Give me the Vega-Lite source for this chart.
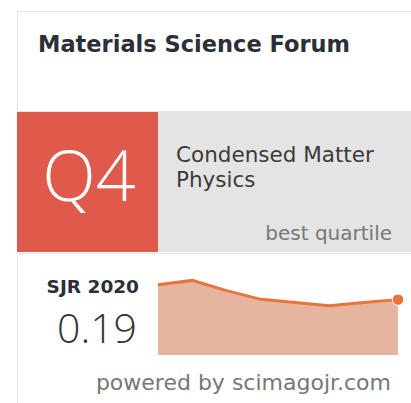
{
  "$schema": "https://vega.github.io/schema/vega-lite/v6.json",
  "background": "white",
  "padding": {"left": 16, "top": 10, "right": 0, "bottom": 0},
  "spacing": 0,
  "config": {
    "view": {"stroke": null},
    "concat": {"spacing": 0},
    "text": {"font": "DejaVu Sans"}
  },
  "vconcat": [
    {
      "width": 401,
      "height": 100,
      "view": {"fill": "white", "stroke": "#e4e4e4"},
      "data": {"values": [{"label": "Materials Science Forum"}]},
      "mark": {"type": "text", "align": "left", "baseline": "alphabetic", "fontSize": 22.5, "fontWeight": "bold", "color": "#2b2f38"},
      "encoding": {
        "text": {"field": "label"},
        "x": {"value": 21},
        "y": {"value": 41}
      }
    },
    {
      "spacing": 0,
      "hconcat": [
        {
          "width": 141,
          "height": 140,
          "view": {"fill": "#e05a4b", "stroke": null},
          "data": {"values": [{"label": "Q4"}]},
          "mark": {"type": "text", "align": "center", "baseline": "alphabetic", "font": "Open Sans", "fontSize": 70, "fontWeight": 300, "color": "white"},
          "encoding": {
            "text": {"field": "label"},
            "x": {"value": 72},
            "y": {"value": 89}
          }
        },
        {
          "width": 260,
          "height": 140,
          "view": {"fill": "#e4e4e4", "stroke": null},
          "layer": [
            {
              "data": {"values": [{"label": "Condensed Matter", "line": 1}, {"label": "Physics", "line": 2}]},
              "mark": {"type": "text", "align": "left", "baseline": "alphabetic", "fontSize": 21.5, "color": "#3a3a3a"},
              "encoding": {
                "text": {"field": "label"},
                "x": {"value": 18},
                "y": {"field": "line", "type": "quantitative", "scale": {"domain": [1, 2], "range": [50, 75]}, "axis": null}
              }
            },
            {
              "data": {"values": [{"label": "best quartile"}]},
              "mark": {"type": "text", "align": "right", "baseline": "alphabetic", "fontSize": 20, "color": "#777777"},
              "encoding": {
                "text": {"field": "label"},
                "x": {"value": 234},
                "y": {"value": 128}
              }
            }
          ]
        }
      ]
    },
    {
      "width": 401,
      "height": 160,
      "view": {"fill": "white", "stroke": "#e4e4e4"},
      "layer": [
        {
          "data": {"name": "sjr", "values": [
            {"year": 2013, "sjr": 0.241},
            {"year": 2014, "sjr": 0.256},
            {"year": 2015, "sjr": 0.221},
            {"year": 2016, "sjr": 0.191},
            {"year": 2017, "sjr": 0.180},
            {"year": 2018, "sjr": 0.169},
            {"year": 2019, "sjr": 0.180},
            {"year": 2020, "sjr": 0.190}
          ]},
          "layer": [
            {
              "mark": {"type": "area", "color": "#e6b59f", "opacity": 1},
              "encoding": {
                "x": {"field": "year", "type": "quantitative", "scale": {"domain": [2013, 2020], "range": [141, 381]}, "axis": null},
                "y": {"field": "sjr", "type": "quantitative", "scale": {"domain": [0, 0.32], "range": [102, 0]}, "axis": null}
              }
            },
            {
              "mark": {"type": "line", "color": "#e8743b", "strokeWidth": 3},
              "encoding": {
                "x": {"field": "year", "type": "quantitative"},
                "y": {"field": "sjr", "type": "quantitative"}
              }
            },
            {
              "transform": [{"filter": "datum.year == 2020"}],
              "mark": {"type": "point", "filled": true, "color": "#e8743b", "size": 130, "opacity": 1, "stroke": "white", "strokeWidth": 1},
              "encoding": {
                "x": {"field": "year", "type": "quantitative"},
                "y": {"field": "sjr", "type": "quantitative"}
              }
            }
          ]
        },
        {
          "data": {"values": [{"label": "SJR 2020"}]},
          "mark": {"type": "text", "align": "right", "baseline": "alphabetic", "fontSize": 18.5, "fontWeight": "bold", "color": "#2b2f38"},
          "encoding": {
            "text": {"field": "label"},
            "x": {"value": 122},
            "y": {"value": 40}
          }
        },
        {
          "data": {"values": [{"label": "0.19"}]},
          "mark": {"type": "text", "align": "right", "baseline": "alphabetic", "font": "Open Sans", "fontSize": 41, "fontWeight": 300, "color": "#333333"},
          "encoding": {
            "text": {"field": "label"},
            "x": {"value": 120},
            "y": {"value": 90}
          }
        },
        {
          "data": {"values": [{"label": "powered by scimagojr.com"}]},
          "mark": {"type": "text", "align": "right", "baseline": "alphabetic", "fontSize": 22, "color": "#777777"},
          "encoding": {
            "text": {"field": "label"},
            "x": {"value": 374},
            "y": {"value": 137}
          }
        }
      ]
    }
  ]
}
